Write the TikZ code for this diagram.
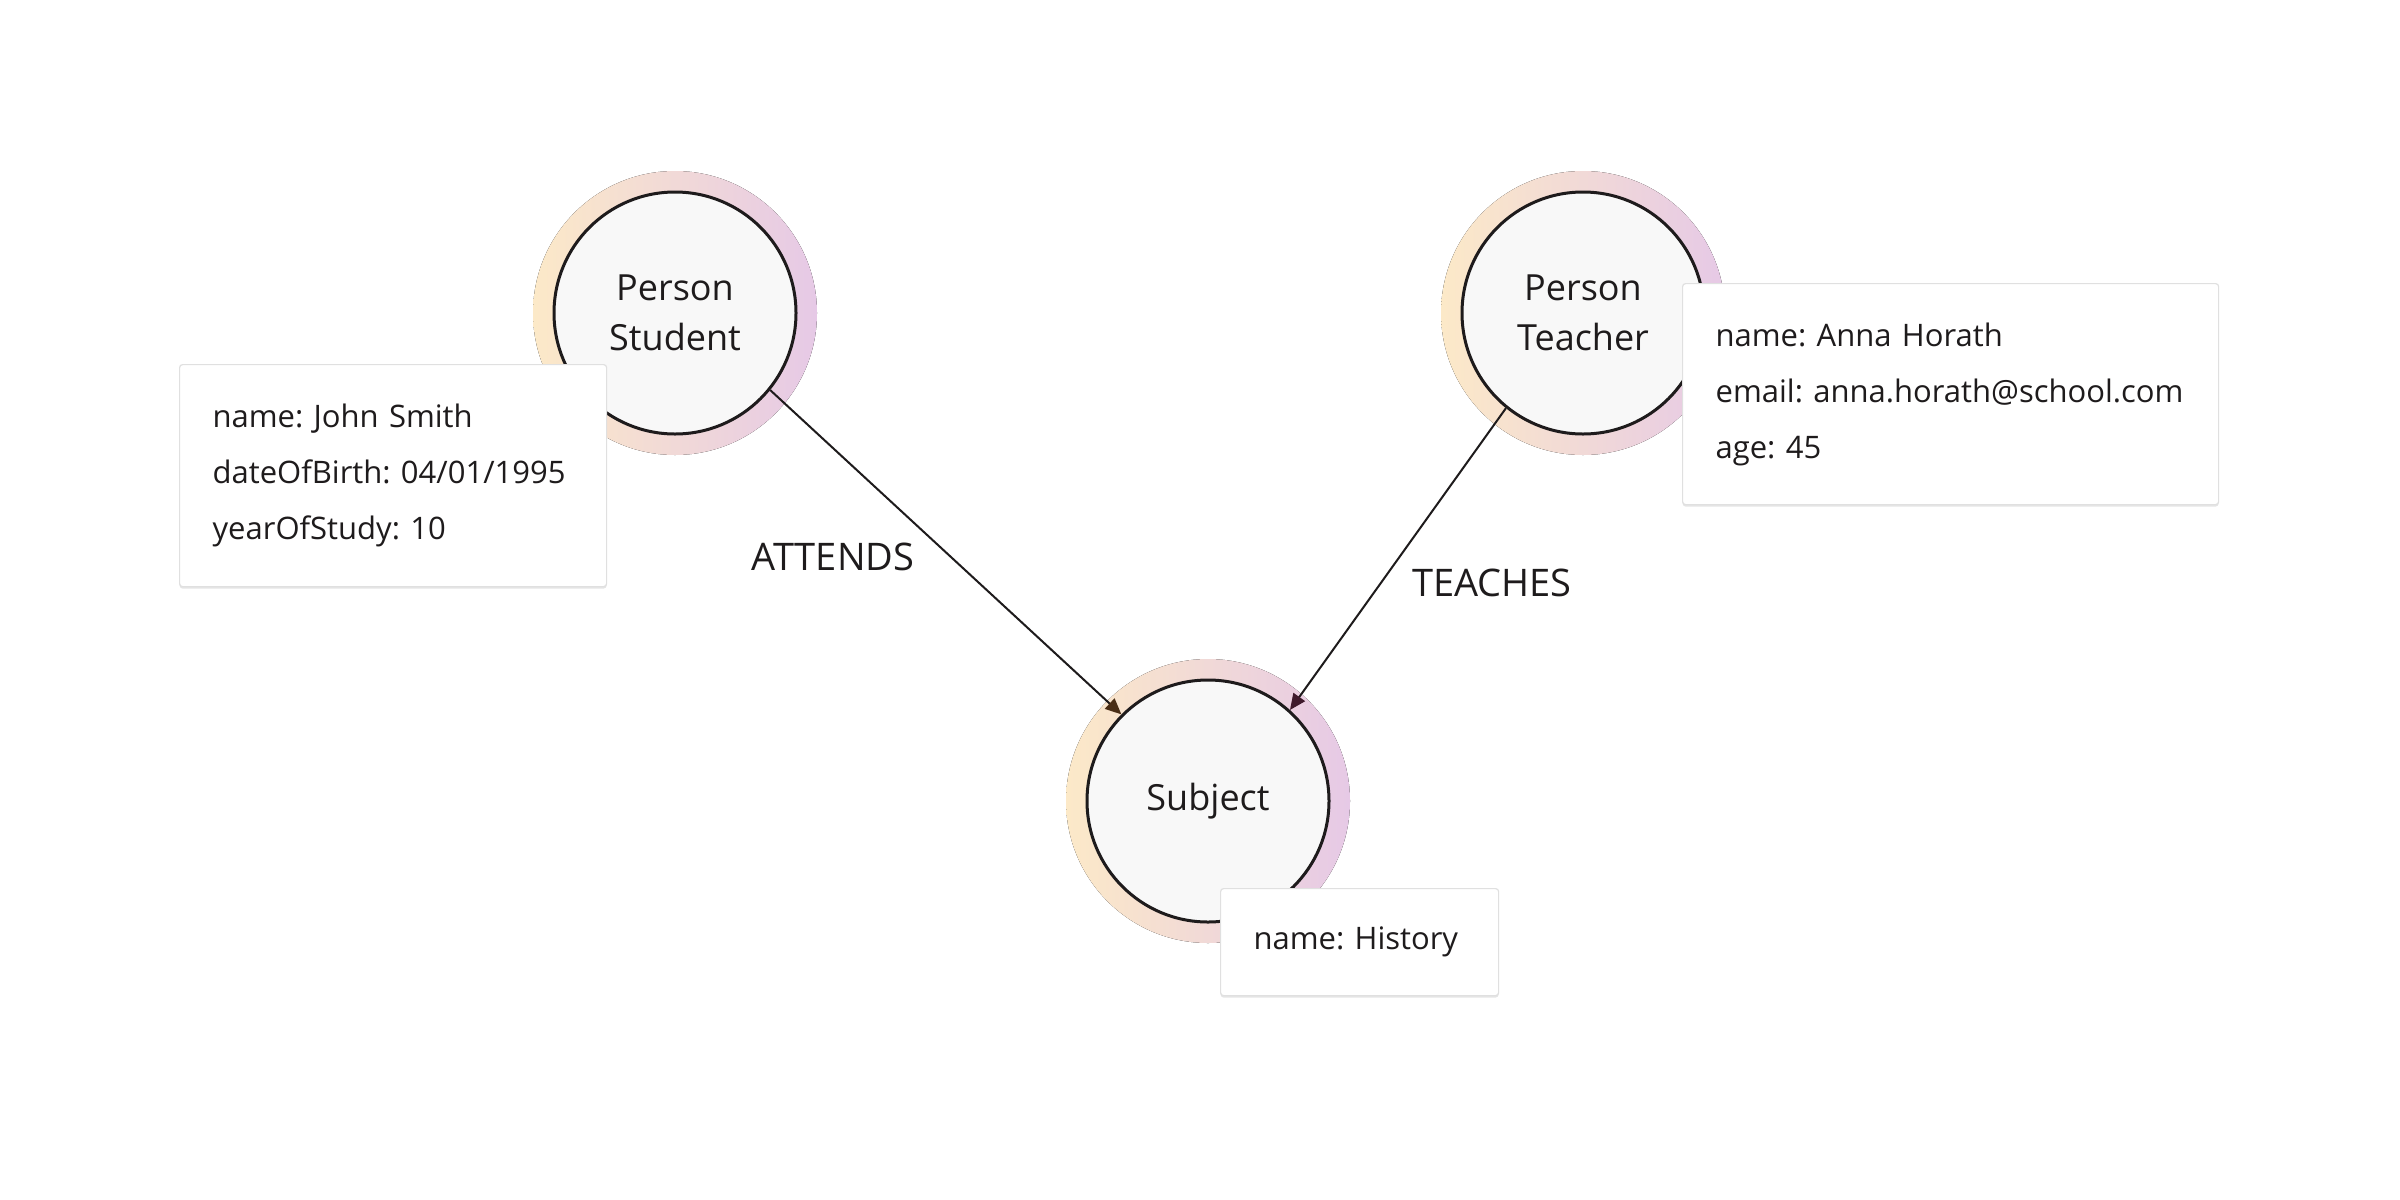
\documentclass[tikz,border=0pt]{standalone}
\usepackage{fontspec}
\setmainfont{Open Sans}
\frenchspacing
\usetikzlibrary{arrows.meta,shadows}
\definecolor{ringL}{HTML}{FCE9C8}
\definecolor{ringM}{HTML}{F5CCD5}
\definecolor{ringR}{HTML}{E6C9E6}
\definecolor{nodefill}{HTML}{F8F8F8}
\definecolor{ink}{HTML}{1E1B1C}
\definecolor{boxline}{HTML}{E0E0E0}
\definecolor{tipA}{HTML}{4A2E16}
\definecolor{tipT}{HTML}{3F1A2C}
\tikzset{
  ring/.style={left color=ringL, middle color=ringM, right color=ringR},
  entity/.style={circle, draw=ink, line width=1.5pt, fill=nodefill, minimum size=121pt, inner sep=0pt, align=center, text=ink, font=\fontsize{18}{25}\selectfont},
  propbox/.style={draw=boxline, line width=0.6pt, fill=white, rounded corners=1.5pt, anchor=north west, inner xsep=16.5pt, inner ysep=0pt, align=left, text=ink, font=\fontsize{15.5}{28}\selectfont, drop shadow={shadow xshift=0pt, shadow yshift=-1pt, opacity=0.10, fill=black}},
  rel/.style={draw=ink, line width=1pt},
  rlabel/.style={text=ink, font=\fontsize{19}{22}\selectfont, inner sep=0pt}
}
\begin{document}
\begin{tikzpicture}[x=0.5pt,y=-0.5pt]
\useasboundingbox[fill=white] (0,0) rectangle (2400,1200);
% rings
\fill[ring] (675,313) circle[radius=71pt];
\fill[ring] (1583,313) circle[radius=71pt];
\fill[ring] (1208,801) circle[radius=71pt];
% entities
\node[entity] (stu) at (675,313) {Person\\Student};
\node[entity] (tea) at (1583,313) {Person\\Teacher};
\node[entity] (sub) at (1208,801) {Subject};
% relationships
\draw[rel, -{Triangle[length=8pt,width=7pt,color=tipA]}] (stu.-39) -- (sub.135);
\draw[rel, -{Triangle[length=8pt,width=7pt,color=tipT]}] (tea.231) -- (sub.48);
\node[rlabel] (lA) at (833,557) {ATTENDS};
\node[rlabel] (lT) at (1492,583) {TEACHES};
% property boxes
\node[propbox, minimum width=213.5pt, minimum height=111pt, text width=180.5pt] (pstu) at (179,364)
  {name: John Smith\\dateOfBirth: 04/01/1995\\yearOfStudy: 10};
\node[propbox, minimum width=268pt, minimum height=110.5pt, text width=235pt] (ptea) at (1682,283)
  {name: Anna Horath\\email: anna.horath@school.com\\age: 45};
\node[propbox, minimum width=139pt, minimum height=53.5pt, text width=106pt] (psub) at (1220,888)
  {name: History};
\end{tikzpicture}
\end{document}
